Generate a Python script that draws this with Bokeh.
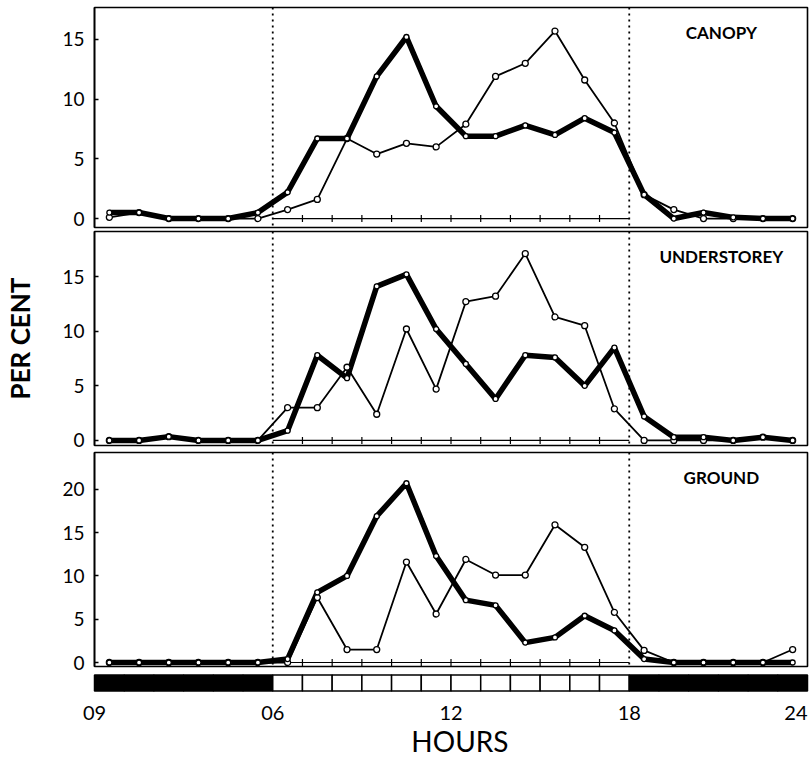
import math
from bokeh.plotting import figure
from bokeh.layouts import column
from bokeh.models import Range1d, FixedTicker, Span, Label, ColumnDataSource
from bokeh.embed import file_html
from bokeh.resources import INLINE

# ---------------- data ----------------
HOURS = [0.5, 1.5, 2.5, 3.5, 4.5, 5.5, 6.5, 7.5, 8.5, 9.5, 10.5, 11.5,
         12.5, 13.5, 14.5, 15.5, 16.5, 17.5, 18.5, 19.5, 20.5, 21.5, 22.5, 23.5]

CANOPY_THICK = [0.5, 0.5, 0.0, 0.0, 0.0, 0.5, 2.2, 6.7, 6.7, 11.9, 15.2, 9.4,
                6.9, 6.9, 7.8, 7.0, 8.4, 7.2, 2.0, 0.0, 0.5, 0.1, 0.0, 0.0]
CANOPY_THIN = [0.1, 0.5, 0.0, 0.0, 0.0, 0.0, 0.75, 1.6, 6.7, 5.4, 6.3, 6.0,
               7.9, 11.9, 13.0, 15.7, 11.6, 8.0, 2.0, 0.75, 0.0, 0.0, 0.0, 0.0]

UNDER_THICK = [0.0, 0.0, 0.35, 0.0, 0.0, 0.0, 0.9, 7.8, 5.7, 14.1, 15.2, 10.2,
               7.0, 3.8, 7.8, 7.6, 5.0, 8.5, 2.2, 0.3, 0.3, 0.0, 0.3, 0.0]
UNDER_THIN = [0.0, 0.0, 0.35, 0.0, 0.0, 0.0, 3.0, 3.0, 6.7, 2.4, 10.2, 4.7,
              12.7, 13.2, 17.1, 11.3, 10.5, 2.9, 0.0, 0.0, 0.0, 0.0, 0.3, 0.0]

GROUND_THICK = [0.0, 0.0, 0.0, 0.0, 0.0, 0.0, 0.4, 8.1, 10.0, 16.9, 20.7, 12.3,
                7.2, 6.6, 2.3, 2.9, 5.4, 3.7, 0.4, 0.0, 0.0, 0.0, 0.0, 0.0]
GROUND_THIN = [0.0, 0.0, 0.0, 0.0, 0.0, 0.0, 0.0, 7.5, 1.5, 1.5, 11.6, 5.6,
               11.9, 10.1, 10.1, 15.9, 13.3, 5.8, 1.4, 0.0, 0.0, 0.0, 0.0, 1.5]

PANEL_NAMES = ["CANOPY", "UNDERSTOREY", "GROUND"]
Y_TICKS_SMALL = [0, 5, 10, 15]
Y_TICKS_LARGE = [0, 5, 10, 15, 20]

DAWN = 6
DUSK = 18
HOUR_TICKS = [0, 6, 12, 18, 24]
HOUR_LABELS = ["09", "06", "12", "18", "24"]
BAR_HOURS = list(range(24))

FONT = "Lato"
W = 810
LEFT = 94
RIGHT = 3
X_RANGE = Range1d(0, 24)


def make_panel(name, thick, thin, y_range, ticks, height, top, bottom, ylabel=None):
    p = figure(width=W, height=height, x_range=X_RANGE, y_range=y_range,
               output_backend="svg", toolbar_location=None, x_axis_location=None,
               min_border_left=LEFT, min_border_right=RIGHT,
               min_border_top=top, min_border_bottom=bottom,
               background_fill_color="white", border_fill_color="white")
    p.grid.visible = False
    p.outline_line_color = "black"
    p.outline_line_width = 1.6
    ax = p.yaxis[0]
    ax.ticker = FixedTicker(ticks=ticks)
    ax.major_tick_in = 4
    ax.major_tick_out = 0
    ax.minor_tick_line_color = None
    ax.major_tick_line_width = 1.5
    ax.axis_line_width = 1.6
    ax.major_label_text_font = FONT
    ax.major_label_text_font_size = "19px"
    ax.major_label_text_color = "black"
    ax.major_label_standoff = 10
    if ylabel:
        ax.axis_label = ylabel
        ax.axis_label_text_font = FONT
        ax.axis_label_text_font_size = "26px"
        ax.axis_label_text_font_style = "bold"
        ax.axis_label_text_color = "black"
        ax.axis_label_standoff = 23

    for loc in (DAWN, DUSK):
        p.add_layout(Span(location=loc, dimension="height", line_color="black",
                          line_width=1.8, line_dash="2 4"))

    # zero baseline with hour ticks during daylight
    p.segment(x0=[DAWN], y0=[0], x1=[DUSK], y1=[0], line_color="black", line_width=1.2)
    day_ticks = list(range(DAWN + 1, DUSK))
    p.scatter(x=day_ticks, y=[0] * len(day_ticks), marker="dash", angle=math.pi / 2,
              size=7, line_color="black", line_width=1.2)

    src = ColumnDataSource(dict(x=HOURS, thick=thick, thin=thin))
    p.line("x", "thin", source=src, line_color="black", line_width=1.8)
    p.line("x", "thick", source=src, line_color="black", line_width=5.5)
    p.scatter("x", "thin", source=src, marker="circle", size=6, fill_color="white",
              line_color="black", line_width=1.3)
    p.scatter("x", "thick", source=src, marker="circle", size=5, fill_color="white",
              line_color="black", line_width=1.3)

    p.add_layout(Label(x=21.1, y=y_range.end, y_offset=-25, text=name,
                       text_font=FONT, text_font_style="bold", text_font_size="17px",
                       text_align="center", text_baseline="middle", text_color="black"))
    return p


p1 = make_panel(PANEL_NAMES[0], CANOPY_THICK, CANOPY_THIN, Range1d(-0.75, 17.67),
                Y_TICKS_SMALL, 230, 7, 3)
p2 = make_panel(PANEL_NAMES[1], UNDER_THICK, UNDER_THIN, Range1d(-0.46, 19.12),
                Y_TICKS_SMALL, 221, 1, 6, ylabel="PER CENT")
p3 = make_panel(PANEL_NAMES[2], GROUND_THICK, GROUND_THIN, Range1d(-0.46, 24.25),
                Y_TICKS_LARGE, 222, 1, 7)

# ---------------- day / night bar + hour labels ----------------
PX_PER_HOUR = (W - LEFT - RIGHT) / 24.0
pb = figure(width=W, height=85,
            x_range=Range1d(-LEFT / PX_PER_HOUR, 24 + RIGHT / PX_PER_HOUR),
            y_range=Range1d(-4.219, 1.094),
            output_backend="svg", toolbar_location=None,
            x_axis_location=None, y_axis_location=None,
            min_border_left=0, min_border_right=0, min_border_top=0, min_border_bottom=0,
            background_fill_color="white", border_fill_color="white")
pb.grid.visible = False
pb.outline_line_color = None
bar_colors = ["white" if DAWN <= h < DUSK else "black" for h in BAR_HOURS]
pb.quad(left=BAR_HOURS, right=[h + 1 for h in BAR_HOURS], bottom=0, top=1,
        fill_color=bar_colors, line_color="black", line_width=1.5)

for hx, lab in zip(HOUR_TICKS, HOUR_LABELS):
    pb.add_layout(Label(x=hx, y=0, y_offset=-22, text=lab, text_font=FONT,
                        text_font_size="20px", text_color="black",
                        text_align="right" if hx == HOUR_TICKS[-1] else "center",
                        text_baseline="middle"))
pb.add_layout(Label(x=12.3, y=0, y_offset=-50, text="HOURS", text_font=FONT,
                    text_font_size="28px", text_color="black",
                    text_align="center", text_baseline="middle"))

layout = column(column(p1, p2, p3, spacing=0), column(pb, spacing=0), spacing=0)
open("out.html", "w").write(file_html(layout, INLINE))
